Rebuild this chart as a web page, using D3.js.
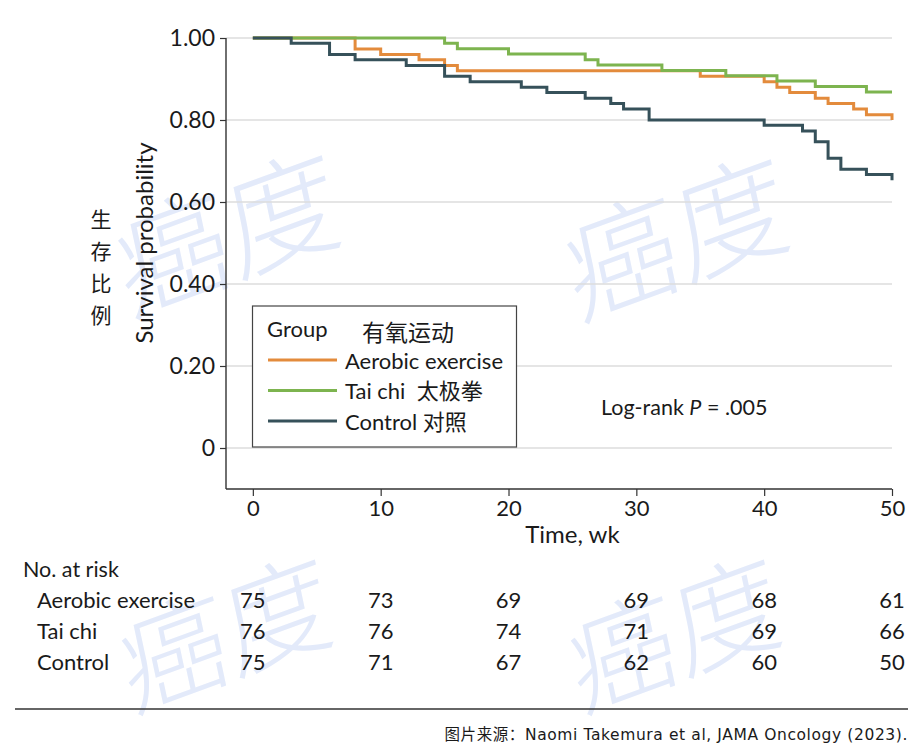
<!DOCTYPE html>
<html><head><meta charset="utf-8">
<script src="https://cdn.jsdelivr.net/npm/d3@7"></script>
<style>
body{margin:0;background:#fff;}
svg{display:block;}
text{font-family:Lato,"Noto Sans CJK SC",sans-serif;fill:#1a1a1a;white-space:pre;}
</style></head>
<body>
<svg id="c" width="922" height="752"></svg>
<script>
// ---- data ----
const groups = ["Aerobic exercise", "Tai chi", "Control"];
const groupsCN = ["有氧运动", "太极拳", "对照"];
const aerobicTimes = [0, 8, 10, 13, 15, 16, 35, 40, 41, 42, 44, 45, 47, 48, 50];
const aerobicSurv  = [1.00, 0.973, 0.960, 0.947, 0.933, 0.920, 0.907, 0.893, 0.880, 0.867, 0.853, 0.840, 0.827, 0.813, 0.800];
const taichiTimes  = [0, 15, 16, 20, 26, 27, 32, 37, 41, 44, 48, 50];
const taichiSurv   = [1.00, 0.987, 0.974, 0.961, 0.947, 0.934, 0.921, 0.908, 0.895, 0.882, 0.868, 0.868];
const controlTimes = [0, 3, 6, 8, 12, 15, 17, 21, 23, 26, 28, 29, 31, 40, 43, 44, 45, 46, 48, 50];
const controlSurv  = [1.00, 0.987, 0.960, 0.947, 0.933, 0.907, 0.893, 0.880, 0.867, 0.853, 0.840, 0.827, 0.800, 0.787, 0.773, 0.747, 0.707, 0.680, 0.667, 0.653];
const xTicks = [0, 10, 20, 30, 40, 50];
const yTicks = [0, 0.2, 0.4, 0.6, 0.8, 1.0];
const yTickLabels = ["0", "0.20", "0.40", "0.60", "0.80", "1.00"];
const riskAerobic = [75, 73, 69, 69, 68, 61];
const riskTaichi  = [76, 76, 74, 71, 69, 66];
const riskControl = [75, 71, 67, 62, 60, 50];
const colors = ["#e38b3c", "#7db44f", "#36515a"];

const svg = d3.select("#c");

// ---- watermark ----
const wm = svg.append("g");
[[228, 236, 116], [677, 240, 116], [226, 636, 110], [675, 636, 110]].forEach(([cx, cy, fs]) => {
  wm.append("text").attr("transform", `translate(${cx},${cy}) rotate(-20) skewX(-8)`)
    .attr("text-anchor", "middle").attr("dy", "0.35em")
    .style("font-family", "'Noto Sans CJK SC'").style("font-size", fs + "px")
    .style("font-weight", 300)
    .style("fill", "#e3eafa").text("癌度");
});

// ---- scales ----
const x = d3.scaleLinear().domain([-2.1, 50]).range([226, 892]);
const y = d3.scaleLinear().domain([-0.1, 1.0]).range([489, 38]);

// gridlines
svg.append("g").selectAll("line").data(yTicks).join("line")
  .attr("x1", x(-2.1)).attr("x2", x(50))
  .attr("y1", d => y(d)).attr("y2", d => y(d))
  .attr("stroke", "#dcdcdc").attr("stroke-width", 1.6);

// axes
const yAxis = d3.axisLeft(y).tickValues(yTicks).tickSize(6).tickPadding(5)
  .tickFormat((d, i) => yTickLabels[i]);
const gy = svg.append("g").attr("transform", `translate(${x(-2.1)},0)`).call(yAxis);
gy.select(".domain").attr("d", `M0,${y(1.0)}V${y(-0.1)}`).attr("stroke", "#333").attr("stroke-width", 1.4);
gy.selectAll(".tick line").attr("stroke", "#333").attr("stroke-width", 1.2);
gy.selectAll(".tick text").style("font-size", "23px").style("font-family", "Lato").attr("fill", "#1a1a1a");

const xAxis = d3.axisBottom(x).tickValues(xTicks).tickSize(7).tickPadding(4);
const gx = svg.append("g").attr("transform", `translate(0,${y(-0.1)})`).call(xAxis);
gx.select(".domain").attr("d", `M${x(-2.1)},0H${x(50)}`).attr("stroke", "#333").attr("stroke-width", 1.4);
gx.selectAll(".tick line").attr("stroke", "#333").attr("stroke-width", 1.2);
gx.selectAll(".tick text").style("font-size", "22px").style("font-family", "Lato").attr("fill", "#1a1a1a");

// curves
const line = d3.line().x(d => x(d[0])).y(d => y(d[1])).curve(d3.curveStepAfter);
const series = [
  d3.zip(aerobicTimes, aerobicSurv),
  d3.zip(taichiTimes, taichiSurv),
  d3.zip(controlTimes, controlSurv)
];
series.forEach((s, i) => {
  svg.append("path").datum(s).attr("d", line)
    .attr("fill", "none").attr("stroke", colors[i]).attr("stroke-width", 3);
});

// axis titles
svg.append("text").attr("x", x(25)).attr("y", 543).attr("text-anchor", "middle")
  .style("font-size", "24px").text("Time, wk");
svg.append("text").attr("transform", `translate(153,243) rotate(-90)`)
  .attr("text-anchor", "middle").style("font-size", "24px").text("Survival probability");
["生", "存", "比", "例"].forEach((ch, i) => {
  svg.append("text").attr("x", 101).attr("y", 220 + i * 32).attr("dy", "0.35em")
    .attr("text-anchor", "middle").style("font-family", "'Noto Sans CJK SC'")
    .style("font-size", "21px").text(ch);
});

// legend
svg.append("rect").attr("x", 252.5).attr("y", 306).attr("width", 264).attr("height", 141)
  .attr("fill", "#fff").attr("stroke", "#444").attr("stroke-width", 1.2);
svg.append("text").attr("x", 267).attr("y", 329).attr("dy", "0.35em").style("font-size", "22px").text("Group");
svg.append("text").attr("x", 362).attr("y", 333).attr("dy", "0.35em")
  .style("font-family", "'Noto Sans CJK SC'").style("font-size", "23px").text("有氧运动");
const legLabels = [groups[0], groups[1] + "  " + groupsCN[1], groups[2] + " " + groupsCN[2]];
legLabels.forEach((t, i) => {
  const ly = 360 + i * 30.5;
  svg.append("line").attr("x1", 268).attr("x2", 337).attr("y1", ly).attr("y2", ly)
    .attr("stroke", colors[i]).attr("stroke-width", 3);
  svg.append("text").attr("x", 345).attr("y", ly + 1).attr("dy", "0.35em")
    .style("font-size", "22px").text(t);
});

// log-rank
const lr = svg.append("text").attr("x", 601).attr("y", 407).attr("dy", "0.35em").style("font-size", "21.5px");
lr.append("tspan").text("Log-rank ");
lr.append("tspan").style("font-style", "italic").text("P");
lr.append("tspan").text(" = .005");

// risk table
svg.append("text").attr("x", 23).attr("y", 569).attr("dy", "0.35em").style("font-size", "21.5px").text("No. at risk");
const riskRows = [riskAerobic, riskTaichi, riskControl];
riskRows.forEach((row, r) => {
  const ry = 600 + r * 31;
  svg.append("text").attr("x", 37).attr("y", ry).attr("dy", "0.35em").style("font-size", "22px").text(groups[r]);
  svg.append("g").selectAll("text").data(row).join("text")
    .attr("x", (d, i) => x(xTicks[i])).attr("y", ry).attr("dy", "0.35em")
    .attr("text-anchor", "middle").style("font-size", "22px").text(d => d);
});

// footer
svg.append("line").attr("x1", 15).attr("x2", 908).attr("y1", 709).attr("y2", 709)
  .attr("stroke", "#333").attr("stroke-width", 1.5);
svg.append("text").attr("x", 908).attr("y", 735).attr("dy", "0.35em").attr("text-anchor", "end")
  .style("font-family", "'DejaVu Sans', 'Noto Sans CJK SC'").style("font-size", "15.5px")
  .style("letter-spacing", "0.6px").text("图片来源：Naomi Takemura et al, JAMA Oncology (2023).");
</script>
</body></html>
